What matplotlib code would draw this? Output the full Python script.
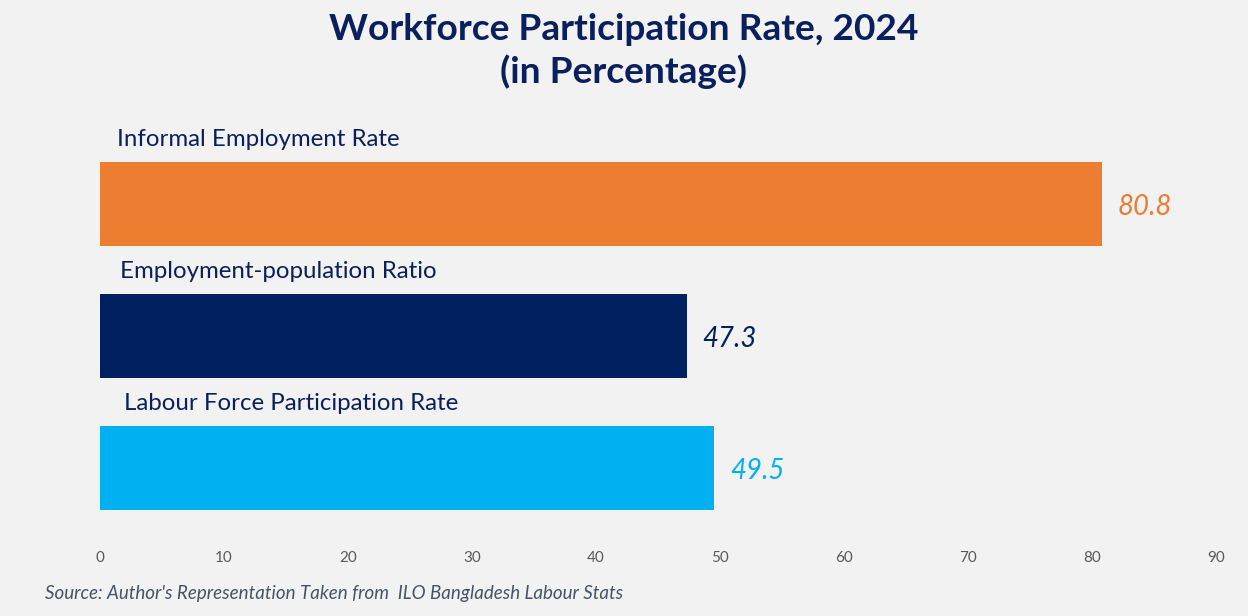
import matplotlib
matplotlib.use('Agg')
from matplotlib import pyplot as plt

plt.rcParams['font.family'] = ['Lato', 'DejaVu Sans']

categories = ['Informal Employment Rate', 'Employment-population Ratio', 'Labour Force Participation Rate']
values = [80.8, 47.3, 49.5]
colors = ['#ED7D31', '#002060', '#00B0F0']
ticks = [0, 10, 20, 30, 40, 50, 60, 70, 80, 90]

navy = '#0A1F5E'
bg = '#F2F2F2'

fig = plt.figure(figsize=(12.48, 6.16), dpi=100, facecolor=bg)
ax = fig.add_axes([100 / 1248, 76 / 616, 1116 / 1248, 440 / 616], facecolor=bg)

pos = list(range(len(values)))
ax.barh(pos, values, height=84 / 132, color=colors)
ax.set_ylim(2 + 72 / 132, -104 / 132)
ax.set_xlim(0, 90)

label_x = [1.4, 1.65, 1.9]
for i, (cat, val, col) in enumerate(zip(categories, values, colors)):
	ax.text(label_x[i], i - 0.49, cat, va='center', ha='left', fontsize=17.3, color=navy)
	ax.annotate(f'{val}', (val, i), xytext=(11.5, -2.5), textcoords='offset points',
				va='center', ha='left', fontsize=19.8, style='italic', color=col)

ax.set_xticks(ticks)
ax.set_xticklabels([str(t) for t in ticks], fontsize=11, color='#595959')
ax.tick_params(axis='x', length=0, pad=8)
ax.set_yticks([])
for s in ax.spines.values():
	s.set_visible(False)

fig.text(0.5, 1 - 51 / 616, 'Workforce Participation Rate, 2024\n(in Percentage)',
		 ha='center', va='center', fontsize=26.7, fontweight='bold', color=navy, linespacing=1.27)
fig.text(45 / 1248, 1 - 593 / 616, "Source: Author's Representation Taken from  ILO Bangladesh Labour Stats",
		 ha='left', va='center', fontsize=13.5, style='italic', color='#44546A')

fig.savefig('out.png', dpi=100, facecolor=bg)
